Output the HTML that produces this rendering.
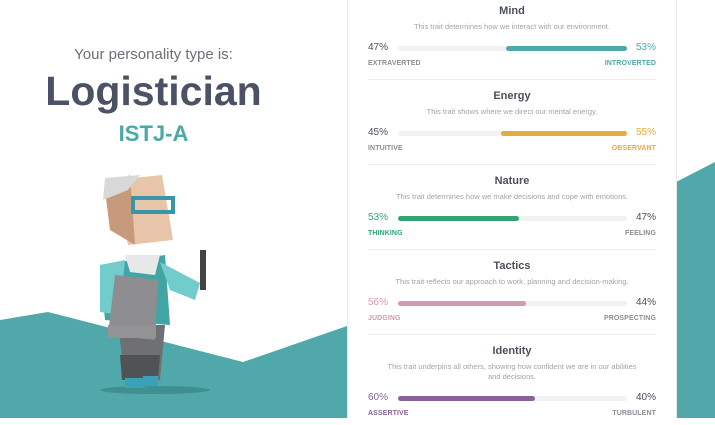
<!DOCTYPE html>
<html><head><meta charset="utf-8"><style>
body{margin:0;width:715px;height:418px;overflow:hidden;background:#fff;font-family:"Liberation Sans",sans-serif;position:relative}
.abs{position:absolute}
.panel{position:absolute;left:347px;top:0;width:328px;height:418px;background:#fff;border-left:1px solid #e8e8ea;border-right:1px solid #e8e8ea}
.sec{position:absolute;left:20px;width:288px;height:85px}
.t{position:absolute;top:5px;width:100%;text-align:center;font-size:11px;font-weight:bold;color:#4b4f5c}
.d{position:absolute;top:22px;width:100%;text-align:center;font-size:7.5px;color:#a0a3ab;line-height:10px}
.pl,.pr{position:absolute;top:42px;font-size:10px}
.pl{left:0}.pr{right:0}
.ll,.lr{position:absolute;top:60px;font-size:7px;font-weight:bold;letter-spacing:.1px;color:#8a8d96}
.ll{left:0}.lr{right:0}
.track{position:absolute;top:46px;left:30px;width:229px;height:5px;background:#f2f2f3;border-radius:3px}
.fill{position:absolute;top:0;height:5px;border-radius:3px}
.div{position:absolute;top:79px;left:0;width:288px;height:1px;background:#ececee}
</style></head><body>
<svg class="abs" style="left:0;top:0" width="715" height="418">
<polygon points="0,320 48,312 243,362 347,326 347,418 0,418" fill="#51a8aa"/>
<polygon points="676,182 715,162 715,418 676,418" fill="#51a8aa"/>
<g>
<ellipse cx="155" cy="390" rx="55" ry="4" fill="#3f8f91"/>
<polygon points="118,325 165,325 160,380 125,380" fill="#6e7074"/>
<polygon points="120,355 160,355 158,380 122,380" fill="#505355"/>
<rect x="125" y="378" width="20" height="10" fill="#3ca0b8"/>
<rect x="143" y="376" width="15" height="10" fill="#3ca0b8"/>
<polygon points="100,265 165,255 170,325 105,320" fill="#41a6a3"/>
<polygon points="100,265 125,260 120,315 100,312" fill="#72cccc"/>
<polygon points="160,262 200,283 195,300 170,290" fill="#72cccc"/>
<polygon points="115,275 158,280 155,340 108,335" fill="#8e8e90"/>
<rect x="108" y="325" width="48" height="13" fill="#939395"/>
<rect x="200" y="250" width="6" height="40" fill="#444"/>
<polygon points="125,255 160,255 155,275 130,272" fill="#e8e8e8"/>
<polygon points="115,180 162,175 173,240 128,245" fill="#e8c5a8"/>
<polygon points="105,190 130,175 135,245 110,230" fill="#c79a7c"/>
<polygon points="105,178 140,175 128,190 103,200" fill="#d8d8d8"/>
<rect x="133" y="198" width="40" height="14" fill="none" stroke="#3896a8" stroke-width="4"/>
</g>
</svg>
<div class="abs" style="left:0;width:307px;top:46px;text-align:center;font-size:15px;color:#6c6f78">Your personality type is:</div>
<div class="abs" style="left:0;width:307px;top:68px;text-align:center;font-size:41px;font-weight:bold;color:#4b5266">Logistician</div>
<div class="abs" style="left:0;width:307px;top:121px;text-align:center;font-size:22px;font-weight:bold;color:#4aa8a6">ISTJ-A</div>
<div class="panel" id="panel"></div>
<script>
const traits=["Mind","Energy","Nature","Tactics","Identity"];
const descs=["This trait determines how we interact with our environment.","This trait shows where we direct our mental energy.","This trait determines how we make decisions and cope with emotions.","This trait reflects our approach to work, planning and decision-making.","This trait underpins all others, showing how confident we are in our abilities and decisions."];
const leftPct=[47,45,53,56,60];
const leftLabels=["EXTRAVERTED","INTUITIVE","THINKING","JUDGING","ASSERTIVE"];
const rightLabels=["INTROVERTED","OBSERVANT","FEELING","PROSPECTING","TURBULENT"];
const dominantLeft=[false,false,true,true,true];
const colors=["#4fa8a9","#e4ab3e","#34a474","#d498b4","#88639a"];
const panel=document.getElementById('panel');
traits.forEach((t,i)=>{
  const s=document.createElement('div');s.className='sec';
  
  
  s.style.top=(i*85)+'px';
  const extra=i===4?10:0;
  const L=leftPct[i],R=100-L,c=colors[i],dl=dominantLeft[i];
  const fill=dl?`left:0;width:${L}%`:`right:0;width:${R}%`;
  s.innerHTML=`<div class="t">${t}</div><div class="d" style="${i===4?'padding:0 14px;box-sizing:border-box':''}">${descs[i]}</div>
  <div class="pl" style="top:${42+extra}px;color:${dl?c:'#4b4f5c'}">${L}%</div>
  <div class="pr" style="top:${42+extra}px;color:${dl?'#4b4f5c':c}">${R}%</div>
  <div class="track" style="top:${46+extra}px"><div class="fill" style="${fill};background:${c}"></div></div>
  <div class="ll" style="top:${60+extra}px;color:${dl?c:'#8a8d96'}">${leftLabels[i]}</div>
  <div class="lr" style="top:${60+extra}px;color:${dl?'#8a8d96':c}">${rightLabels[i]}</div>
  ${i<4?'<div class="div"></div>':''}`;
  panel.appendChild(s);
});
</script>
</body></html>
